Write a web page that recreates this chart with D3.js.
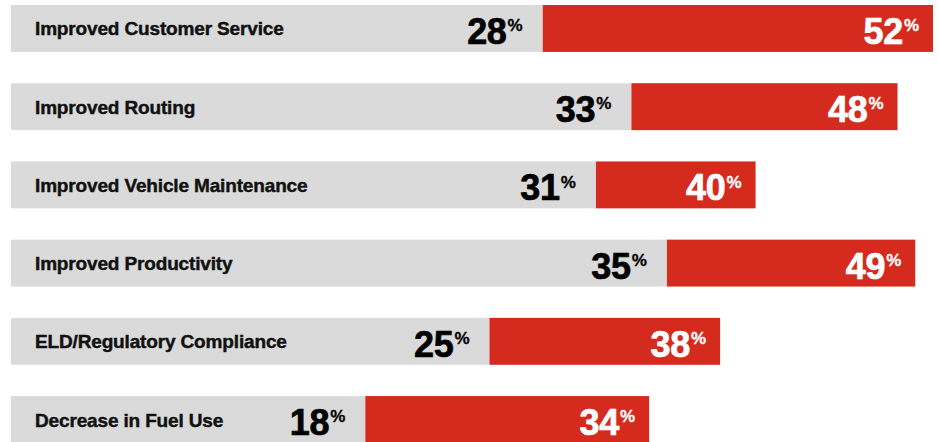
<!DOCTYPE html>
<html>
<head>
<meta charset="utf-8">
<script src="https://cdn.jsdelivr.net/npm/d3@7"></script>
<style>
  html, body { margin: 0; padding: 0; background: #fff; }
  svg { display: block; }
  text { font-family: "Liberation Sans", Arial, Helvetica, sans-serif; font-weight: bold; }
</style>
</head>
<body>
<svg id="chart" width="939" height="442"></svg>
<script>
const categories = [
  "Improved Customer Service",
  "Improved Routing",
  "Improved Vehicle Maintenance",
  "Improved Productivity",
  "ELD/Regulatory Compliance",
  "Decrease in Fuel Use"
];
const greyValues = [28, 33, 31, 35, 25, 18];
const redValues  = [52, 48, 40, 49, 38, 34];

const rows = categories.map((c, i) => ({ cat: c, a: greyValues[i], b: redValues[i] }));

const svg = d3.select("#chart");

const x = d3.scaleLinear().domain([0, 50]).range([46, 933]).clamp(true);
const y = d3.scaleBand().domain(categories).range([5, 443]).paddingInner(0.4).paddingOuter(0);

const GREY = "#d9dad9", RED = "#d52b1e";
const barLeft = 11;

const g = svg.selectAll("g.row").data(rows).join("g").attr("class", "row")
  .attr("transform", d => `translate(0,${y(d.cat)})`);

const bw = y.bandwidth();

g.append("rect")
  .attr("x", barLeft)
  .attr("y", 0)
  .attr("width", d => x(d.a) - barLeft)
  .attr("height", bw)
  .attr("fill", GREY);

g.append("rect")
  .attr("x", d => x(d.a))
  .attr("y", 0)
  .attr("width", d => x(d.b) - x(d.a))
  .attr("height", bw)
  .attr("fill", RED);

g.append("text")
  .attr("x", 35)
  .attr("y", bw / 2 + 7)
  .attr("font-size", 19)
  .attr("fill", "#111")
  .attr("stroke", "#111")
  .attr("stroke-width", 0.45)
  .attr("letter-spacing", -0.15)
  .text(d => d.cat);

function pctLabel(sel, accessor, offset, color) {
  const t = sel.append("text")
    .attr("x", d => x(accessor(d)) - offset)
    .attr("y", bw / 2 + 15.5)
    .attr("text-anchor", "end")
    .attr("fill", color)
    .attr("stroke", color);
  t.append("tspan")
    .attr("font-size", 36)
    .attr("stroke-width", 0.7)
    .attr("letter-spacing", -0.3)
    .text(d => accessor(d));
  t.append("tspan")
    .attr("font-size", 17)
    .attr("stroke-width", 0.3)
    .attr("dx", 1)
    .attr("dy", -12.8)
    .text("%");
}

pctLabel(g, d => d.a, 20, "#000");
pctLabel(g, d => d.b, 14, "#fff");
</script>
</body>
</html>
